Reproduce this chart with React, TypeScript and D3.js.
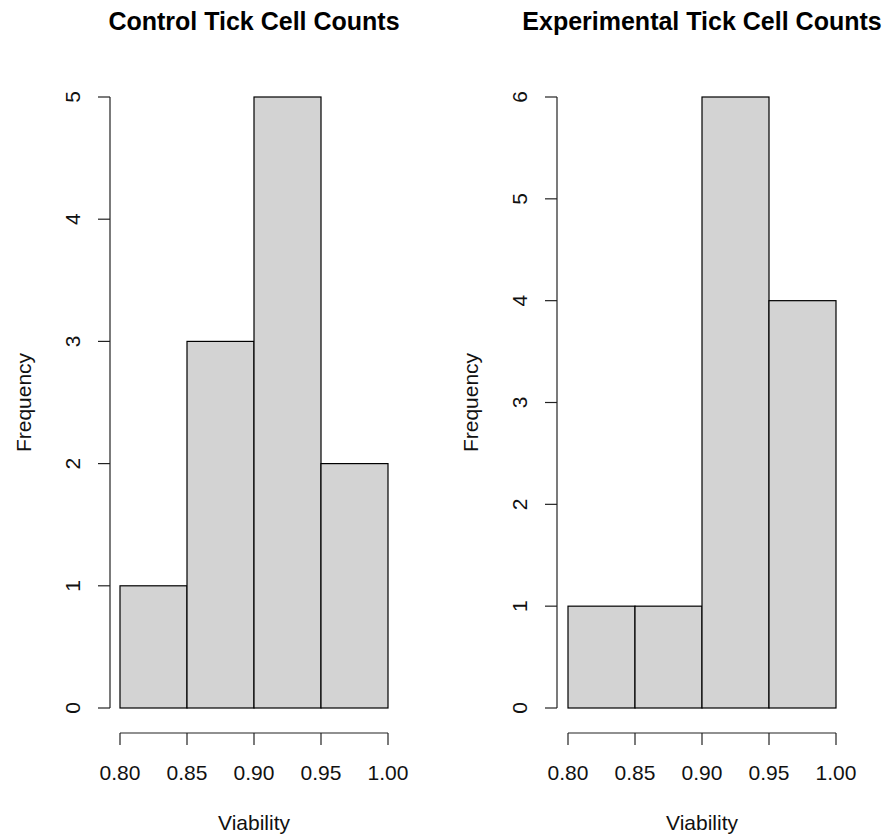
import { useRef, useEffect } from "react";
import * as d3 from "d3";

const binEdges = [0.8, 0.85, 0.9, 0.95, 1.0];
const xTicks = [0.8, 0.85, 0.9, 0.95, 1.0];
const controlCounts = [1, 3, 5, 2];
const experimentalCounts = [1, 1, 6, 4];
const controlYTicks = [0, 1, 2, 3, 4, 5];
const experimentalYTicks = [0, 1, 2, 3, 4, 5, 6];
const titles = ["Control Tick Cell Counts", "Experimental Tick Cell Counts"];

const W = 890;
const H = 840;
const FONT = "'Liberation Sans', Arial, sans-serif";

export default function App() {
  const ref = useRef<SVGSVGElement | null>(null);

  useEffect(() => {
    const svg = d3.select(ref.current);
    svg.selectAll("*").remove();

    const panels = [
      { counts: controlCounts, yTicks: controlYTicks, title: titles[0], x0: 120, x1: 388, axisX: 110 },
      { counts: experimentalCounts, yTicks: experimentalYTicks, title: titles[1], x0: 568, x1: 836, axisX: 557 },
    ];

    panels.forEach((p) => {
      const g = svg.append("g");
      const x = d3.scaleLinear().domain([0.8, 1.0]).range([p.x0, p.x1]);
      const yMax = d3.max(p.yTicks)!;
      const y = d3.scaleLinear().domain([0, yMax]).range([708, 97]);

      // bars
      const bins = p.counts.map((c, i) => ({ lo: binEdges[i], hi: binEdges[i + 1], c }));
      g.selectAll("rect")
        .data(bins)
        .join("rect")
        .attr("x", (d) => x(d.lo))
        .attr("y", (d) => y(d.c))
        .attr("width", (d) => x(d.hi) - x(d.lo))
        .attr("height", (d) => y(0) - y(d.c))
        .attr("fill", "#d3d3d3")
        .attr("stroke", "#000")
        .attr("stroke-width", 1.2);

      // x axis (R style, offset below the bars)
      const xa = 733;
      g.append("line")
        .attr("x1", x(0.8)).attr("x2", x(1.0))
        .attr("y1", xa).attr("y2", xa)
        .attr("stroke", "#222").attr("stroke-width", 1.2);
      xTicks.forEach((t) => {
        g.append("line")
          .attr("x1", x(t)).attr("x2", x(t))
          .attr("y1", xa).attr("y2", xa + 12)
          .attr("stroke", "#222").attr("stroke-width", 1.2);
        g.append("text")
          .attr("x", x(t)).attr("y", 780)
          .attr("text-anchor", "middle")
          .attr("font-family", FONT).attr("font-size", 21)
          .attr("fill", "#111")
          .text(t.toFixed(2));
      });

      // y axis
      g.append("line")
        .attr("x1", p.axisX).attr("x2", p.axisX)
        .attr("y1", y(0)).attr("y2", y(yMax))
        .attr("stroke", "#222").attr("stroke-width", 1.2);
      p.yTicks.forEach((t) => {
        g.append("line")
          .attr("x1", p.axisX - 12).attr("x2", p.axisX)
          .attr("y1", y(t)).attr("y2", y(t))
          .attr("stroke", "#222").attr("stroke-width", 1.2);
        g.append("text")
          .attr("transform", `translate(${p.axisX - 30},${y(t)}) rotate(-90)`)
          .attr("text-anchor", "middle")
          .attr("font-family", FONT).attr("font-size", 21)
          .attr("fill", "#111")
          .text(String(t));
      });

      // labels
      g.append("text")
        .attr("x", (p.x0 + p.x1) / 2).attr("y", 830)
        .attr("text-anchor", "middle")
        .attr("font-family", FONT).attr("font-size", 21)
        .attr("fill", "#111")
        .text("Viability");
      g.append("text")
        .attr("transform", `translate(${p.axisX - 79},${(97 + 708) / 2}) rotate(-90)`)
        .attr("text-anchor", "middle")
        .attr("font-family", FONT).attr("font-size", 21)
        .attr("fill", "#111")
        .text("Frequency");
      g.append("text")
        .attr("x", (p.x0 + p.x1) / 2).attr("y", 30)
        .attr("text-anchor", "middle")
        .attr("font-family", FONT).attr("font-size", 25)
        .attr("font-weight", "bold")
        .attr("fill", "#000")
        .text(p.title);
    });
  }, []);

  return (
    <svg
      ref={ref}
      width={W}
      height={H}
      style={{ position: "absolute", left: 0, top: 0, background: "#fff" }}
    ></svg>
  );
}
